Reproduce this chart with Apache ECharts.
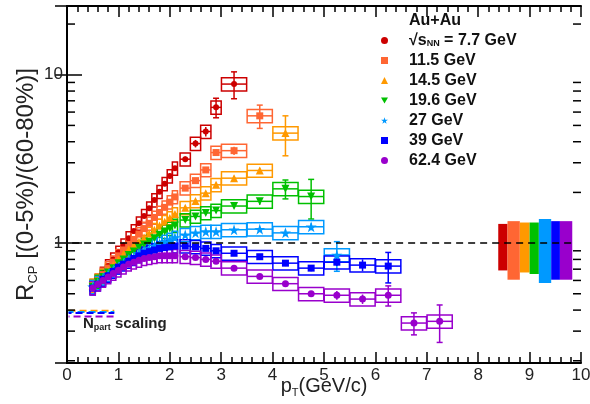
<!DOCTYPE html>
<html>
<head>
<meta charset="utf-8">
<title>RCP vs pT</title>
<script src="https://cdn.jsdelivr.net/npm/echarts@6/dist/echarts.min.js"></script>
<style>
    html, body { margin: 0; padding: 0; background: #fff; }
    #chart { width: 590px; height: 404px; }
</style>
</head>
<body>
<div id="chart"></div>
<script>
    // pT bin centres shared by all energies (GeV/c)
    var ptBins = [0.5, 0.6, 0.7, 0.8, 0.9, 1.0, 1.1, 1.2, 1.3, 1.4, 1.5, 1.6, 1.7, 1.8, 1.9, 2.0, 2.1,
        2.3, 2.5, 2.7, 2.9, 3.25, 3.75, 4.25, 4.75, 5.25, 5.75, 6.25, 6.75, 7.25];

    var energies = ['7.7', '11.5', '14.5', '19.6', '27', '39', '62.4'];

    // R_CP values and statistical errors
    var rcp77 = [0.55, 0.60, 0.66, 0.73, 0.80, 0.88, 0.97, 1.07, 1.18, 1.31, 1.45, 1.61, 1.80, 2.02, 2.25, 2.50, 2.78,
        3.15, 3.9, 4.6, 6.4, 8.8];
    var stat77 = [0.01, 0.01, 0.01, 0.01, 0.01, 0.02, 0.02, 0.02, 0.03, 0.03, 0.04, 0.04, 0.05, 0.06, 0.07, 0.08, 0.09,
        0.12, 0.2, 0.3, 0.85, 1.6];

    var rcp115 = [0.56, 0.60, 0.65, 0.71, 0.77, 0.84, 0.91, 0.98, 1.05, 1.13, 1.22, 1.31, 1.42, 1.52, 1.63, 1.75, 1.88,
        2.12, 2.35, 2.72, 3.45, 3.54, 5.7];
    var stat115 = [0.01, 0.01, 0.01, 0.01, 0.01, 0.01, 0.01, 0.02, 0.02, 0.02, 0.02, 0.03, 0.03, 0.03, 0.04, 0.04, 0.05,
        0.06, 0.08, 0.1, 0.15, 0.2, 0.9];

    var rcp145 = [0.56, 0.60, 0.64, 0.69, 0.74, 0.80, 0.86, 0.92, 0.97, 1.02, 1.08, 1.14, 1.20, 1.27, 1.34, 1.41, 1.49,
        1.62, 1.78, 1.98, 2.22, 2.43, 2.70, 4.5];
    var stat145 = [0.01, 0.01, 0.01, 0.01, 0.01, 0.01, 0.01, 0.01, 0.01, 0.01, 0.01, 0.02, 0.02, 0.02, 0.02, 0.02, 0.03,
        0.03, 0.04, 0.05, 0.06, 0.08, 0.1, 1.2];

    var rcp196 = [0.55, 0.59, 0.63, 0.67, 0.71, 0.76, 0.80, 0.85, 0.89, 0.94, 0.98, 1.02, 1.07, 1.12, 1.17, 1.22, 1.27,
        1.37, 1.44, 1.51, 1.56, 1.66, 1.77, 2.10, 1.89];
    var stat196 = [0.01, 0.01, 0.01, 0.01, 0.01, 0.01, 0.01, 0.01, 0.01, 0.01, 0.01, 0.01, 0.01, 0.02, 0.02, 0.02, 0.02,
        0.02, 0.03, 0.03, 0.04, 0.05, 0.08, 0.27, 0.5];

    var rcp27 = [0.55, 0.58, 0.62, 0.65, 0.69, 0.72, 0.76, 0.80, 0.83, 0.87, 0.90, 0.93, 0.96, 0.99, 1.02, 1.05, 1.08,
        1.12, 1.15, 1.17, 1.17, 1.20, 1.21, 1.15, 1.25, 0.85];
    var stat27 = [0.01, 0.01, 0.01, 0.01, 0.01, 0.01, 0.01, 0.01, 0.01, 0.01, 0.01, 0.01, 0.01, 0.01, 0.01, 0.01, 0.01,
        0.01, 0.01, 0.02, 0.02, 0.03, 0.04, 0.05, 0.06, 0.17];

    var rcp39 = [0.54, 0.57, 0.61, 0.64, 0.68, 0.72, 0.75, 0.78, 0.81, 0.84, 0.87, 0.89, 0.91, 0.93, 0.94, 0.95, 0.96,
        0.96, 0.95, 0.93, 0.90, 0.87, 0.83, 0.76, 0.71, 0.77, 0.74, 0.73];
    var stat39 = [0.01, 0.01, 0.01, 0.01, 0.01, 0.01, 0.01, 0.01, 0.01, 0.01, 0.01, 0.01, 0.01, 0.01, 0.01, 0.01, 0.01,
        0.01, 0.01, 0.01, 0.01, 0.02, 0.02, 0.03, 0.03, 0.04, 0.06, 0.15];

    var rcp624 = [0.54, 0.57, 0.60, 0.63, 0.66, 0.69, 0.72, 0.75, 0.77, 0.79, 0.81, 0.82, 0.83, 0.84, 0.84, 0.84, 0.84,
        0.83, 0.82, 0.80, 0.78, 0.71, 0.634, 0.574, 0.50, 0.49, 0.465, 0.49, 0.335, 0.343];
    var stat624 = [0.01, 0.01, 0.01, 0.01, 0.01, 0.01, 0.01, 0.01, 0.01, 0.01, 0.01, 0.01, 0.01, 0.01, 0.01, 0.01, 0.01,
        0.01, 0.01, 0.01, 0.01, 0.02, 0.02, 0.02, 0.02, 0.03, 0.03, 0.067, 0.05, 0.086];

    // relative systematic error (boxes)
    var sysFrac = 0.09;

    // normalisation uncertainty bands on the right (per energy)
    var normLow = [0.688, 0.606, 0.669, 0.655, 0.579, 0.606, 0.606];
    var normHigh = [1.30, 1.35, 1.325, 1.325, 1.39, 1.35, 1.35];
    var normLeft = [8.39, 8.57, 8.81, 9.00, 9.18, 9.42, 9.59];
    var normRight = [8.57, 8.81, 9.00, 9.18, 9.42, 9.59, 9.83];

    // Npart scaling levels
    var npartLevels = [0.397, 0.390, 0.384, 0.366];

    // y axis minor tick values (log axis)
    var yMinorTicks = [0.2, 0.3, 0.4, 0.5, 0.6, 0.7, 0.8, 0.9, 2, 3, 4, 5, 6, 7, 8, 9, 20];

    var rcpAll = [rcp77, rcp115, rcp145, rcp196, rcp27, rcp39, rcp624];
    var statAll = [stat77, stat115, stat145, stat196, stat27, stat39, stat624];

    var colors = ['#cc0000', '#ff6633', '#ff9900', '#00c000', '#0099ff', '#0000ff', '#9900cc'];
    var starPath = 'path://M50,0 L61,35 L98,35 L68,57 L79,91 L50,70 L21,91 L32,57 L2,35 L39,35 Z';
    var triDown = 'path://M0,0 L100,0 L50,87 Z';
    var symbols = ['circle', 'rect', 'triangle', triDown, starPath, 'rect', 'circle'];
    var symbolSizes = [6, 7, 8, 8, 11, 7, 7];

    function halfWidth(pt) {
        return pt < 2.2 ? 0.05 : (pt < 3 ? 0.1 : 0.245);
    }

    function boxRenderer(color) {
        return function (params, api) {
            var pt = api.value(0), r = api.value(1), st = api.value(2), hw = api.value(3);
            var c = api.coord([pt, r]);
            var xl = api.coord([pt - hw, r])[0], xr = api.coord([pt + hw, r])[0];
            var yt = api.coord([pt, r * (1 + sysFrac)])[1];
            var yb = api.coord([pt, r * (1 - sysFrac)])[1];
            var s1 = api.coord([pt, r + st])[1];
            var s0 = api.coord([pt, Math.max(r - st, 0.05)])[1];
            var style = {stroke: color, lineWidth: 1.5, fill: 'none'};
            var kids = [
                {type: 'rect', shape: {x: xl, y: yt, width: xr - xl, height: yb - yt}, style: style},
                {type: 'line', shape: {x1: xl, y1: c[1], x2: xr, y2: c[1]}, style: style},
                {type: 'line', shape: {x1: c[0], y1: s1, x2: c[0], y2: s0}, style: style}
            ];
            if (s1 < yt) kids.push({type: 'line', shape: {x1: c[0] - 3, y1: s1, x2: c[0] + 3, y2: s1}, style: style});
            if (s0 > yb) kids.push({type: 'line', shape: {x1: c[0] - 3, y1: s0, x2: c[0] + 3, y2: s0}, style: style});
            return {type: 'group', children: kids};
        };
    }

    var series = [];

    // normalisation bands
    series.push({
        type: 'custom',
        name: 'norm',
        silent: true,
        data: normLow.map(function (lo, i) { return [normLeft[i], lo, normRight[i], normHigh[i]]; }),
        encode: {x: [0, 2], y: [1, 3]},
        renderItem: function (params, api) {
            var p0 = api.coord([api.value(0), api.value(3)]);
            var p1 = api.coord([api.value(2), api.value(1)]);
            return {
                type: 'rect',
                shape: {x: p0[0], y: p0[1], width: p1[0] - p0[0], height: p1[1] - p0[1]},
                style: {fill: colors[params.dataIndex]}
            };
        }
    });

    energies.forEach(function (e, k) {
        var rc = rcpAll[k], st = statAll[k];
        var items = rc.map(function (r, i) { return [ptBins[i], r, st[i], halfWidth(ptBins[i])]; });
        series.push({
            type: 'custom',
            name: 'box' + e,
            silent: true,
            data: items,
            encode: {x: 0, y: 1},
            renderItem: boxRenderer(colors[k])
        });
        series.push({
            type: 'scatter',
            name: e,
            symbol: symbols[k],
            symbolSize: symbolSizes[k],
            itemStyle: {color: colors[k], opacity: 1},
            data: rc.map(function (r, i) { return [ptBins[i], r]; })
        });
    });

    // Npart scaling dashes
    var npartColors = ['#ff9900', '#0099ff', '#0000ff', '#9900cc'];
    npartLevels.forEach(function (v, i) {
        series.push({
            type: 'line',
            name: 'npart' + i,
            silent: true,
            symbol: 'none',
            data: [[0.03, v], [0.92, v]],
            lineStyle: {color: npartColors[i], width: 2, type: [7, 4], dashOffset: i * 2}
        });
    });

    // unity reference line
    series.push({
        type: 'line',
        name: 'unity',
        silent: true,
        symbol: 'none',
        z: 5,
        data: [[0.1, 1], [9.85, 1]],
        lineStyle: {color: '#000', width: 1.5, type: [7, 5]}
    });

    // y minor ticks on both sides
    series.push({
        type: 'custom',
        name: 'yminor',
        silent: true,
        z: 6,
        data: yMinorTicks.map(function (v) { return [5, v]; }),
        encode: {x: 0, y: 1},
        renderItem: function (params, api) {
            var l = api.coord([0, api.value(1)]);
            var r = api.coord([10, api.value(1)]);
            var st = {stroke: '#000', lineWidth: 1.5};
            return {type: 'group', children: [
                {type: 'line', shape: {x1: l[0], y1: l[1], x2: l[0] + 8, y2: l[1]}, style: st},
                {type: 'line', shape: {x1: r[0], y1: r[1], x2: r[0] - 8, y2: r[1]}, style: st}
            ]};
        }
    });

    var legendText = {
        '7.7': '{f|√}{r|s}{sub|NN}{r| = 7.7 GeV}'
    };

    var xCommon = {
        type: 'value', min: 0, max: 10, interval: 1,
        axisLine: {lineStyle: {color: '#000', width: 2}},
        axisTick: {inside: true, length: 11, lineStyle: {color: '#000', width: 1.5}},
        minorTick: {show: true, splitNumber: 5, length: 6, lineStyle: {color: '#000', width: 1.5}},
        splitLine: {show: false}
    };
    var yCommon = {
        type: 'log', logBase: 10, min: 0.194, max: 25.6,
        axisLine: {show: true, lineStyle: {color: '#000', width: 2}},
        splitLine: {show: false},
        minorTick: {show: false}
    };

    var legendFont = {fontSize: 16, fontWeight: 'bold', color: '#111', lineHeight: 17, fontFamily: 'Liberation Sans'};

    var myChart = echarts.init(document.getElementById('chart'));
    myChart.setOption({
        animation: false,
        backgroundColor: '#fff',
        textStyle: {fontFamily: 'Liberation Sans, Arial, sans-serif'},
        grid: {left: 67, right: 9, top: 6, bottom: 41, outerBoundsMode: 'none'},
        title: {
            text: 'Au+Au', left: 404, top: 7,
            textStyle: legendFont
        },
        legend: {
            orient: 'vertical', left: 376, top: 27,
            itemWidth: 7, itemHeight: 7, itemGap: 3,
            data: energies.map(function (e) { return {name: e}; }),
            formatter: function (name) {
                return legendText[name] || ('{f|' + name + ' GeV}');
            },
            textStyle: Object.assign({}, legendFont, {
                rich: {
                    f: Object.assign({}, legendFont, {padding: [0, 0, 0, 16]}),
                    r: legendFont,
                    sub: {fontSize: 9, fontWeight: 'bold', color: '#111', lineHeight: 17, padding: [7, 0, 0, 0]}
                }
            })
        },
        xAxis: [
            Object.assign({}, xCommon, {
                position: 'bottom',
                name: 'p{sub|T}(GeV/c)', nameLocation: 'middle', nameGap: 12, nameMoveOverlap: false,
                nameTextStyle: {fontSize: 20, color: '#222', rich: {sub: {fontSize: 11, padding: [12, 0, 0, 0]}}},
                axisLabel: {fontSize: 17, color: '#222', margin: 4}
            }),
            Object.assign({}, xCommon, {position: 'top', axisLabel: {show: false}})
        ],
        yAxis: [
            Object.assign({}, yCommon, {
                position: 'left',
                name: 'R{sub|CP} [(0-5%)/(60-80%)]', nameLocation: 'middle', nameGap: 27, nameMoveOverlap: false,
                nameTextStyle: {fontSize: 24, color: '#222', rich: {sub: {fontSize: 13, padding: [14, 0, 0, 0]}}},
                axisTick: {inside: true, length: 15, lineStyle: {color: '#000', width: 1.5}},
                axisLabel: {
                    fontSize: 17, color: '#222', margin: 4, showMinLabel: false, showMaxLabel: false,
                    formatter: function (v) {
                        if (Math.abs(v - 1) < 1e-6) return '1';
                        if (Math.abs(v - 10) < 1e-6) return '10';
                        return '';
                    }
                }
            }),
            Object.assign({}, yCommon, {
                position: 'right',
                axisTick: {inside: true, length: 12, lineStyle: {color: '#000', width: 1.5}},
                axisLabel: {show: false}
            })
        ],
        graphic: [{
            type: 'text', left: 83, top: 316,
            style: {
                text: '{n|N}{p|part}{n| scaling}',
                rich: {
                    n: {fontSize: 15, fontWeight: 'bold', fill: '#222', fontFamily: 'Liberation Sans'},
                    p: {fontSize: 9, fontWeight: 'bold', fill: '#222', padding: [9, 0, 0, 0], fontFamily: 'Liberation Sans'}
                }
            }
        }],
        series: series
    });
</script>
</body>
</html>
